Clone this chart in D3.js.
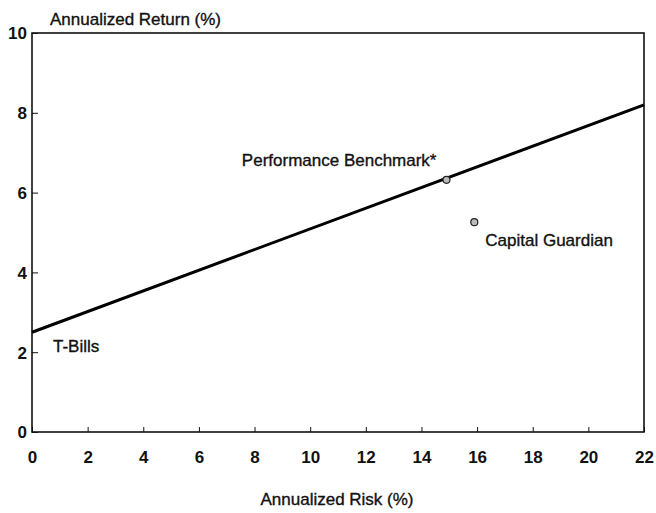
<!DOCTYPE html>
<html><head><meta charset="utf-8">
<script src="https://cdn.jsdelivr.net/npm/d3@7"></script>
<style>body{margin:0;background:#fff}text{font-family:"Liberation Sans",Arial,sans-serif;fill:#111}
.lbl{stroke:#111;stroke-width:0.35px}</style>
</head><body><svg id="c" width="656" height="513"></svg>
<script>
const xTicks=[0,2,4,6,8,10,12,14,16,18,20,22];
const yTicks=[0,2,4,6,8,10];
const lineRisk=[0,22];
const lineReturn=[2.5,8.2];
const pointNames=["Performance Benchmark*","Capital Guardian"];
const pointRisk=[14.9,15.9];
const pointReturn=[6.32,5.26];

const svg=d3.select("#c");
const L=32,R=644,T=33,B=432;
const x=d3.scaleLinear().domain([0,22]).range([L,R]);
const y=d3.scaleLinear().domain([0,10]).range([B,T]);

// frame
svg.append("rect").attr("x",L).attr("y",T).attr("width",R-L).attr("height",B-T)
  .attr("fill","none").attr("stroke","#111").attr("stroke-width",1.6);
// x axis
const xa=svg.append("g").attr("transform",`translate(0,${B})`)
  .call(d3.axisBottom(x).tickValues(xTicks).tickSize(-5).tickPadding(19).tickFormat(d3.format("d")));
xa.select(".domain").remove();
xa.selectAll("text").attr("font-size",17).attr("font-weight","bold");
xa.selectAll("line").attr("stroke","#111");
const ya=svg.append("g").attr("transform",`translate(${L},0)`)
  .call(d3.axisLeft(y).tickValues(yTicks).tickSize(-6).tickPadding(5).tickFormat(d3.format("d")));
ya.select(".domain").remove();
ya.selectAll("text").attr("font-size",17).attr("font-weight","bold").attr("dy","0.35em");
ya.selectAll("line").attr("stroke","#111");

// line
svg.append("line").attr("x1",x(lineRisk[0])).attr("y1",y(lineReturn[0]))
  .attr("x2",x(lineRisk[1])).attr("y2",y(lineReturn[1]))
  .attr("stroke","#000").attr("stroke-width",3);

// points
svg.selectAll("circle.pt").data(pointRisk).enter().append("circle").attr("class","pt")
  .attr("cx",d=>x(d)).attr("cy",(d,i)=>y(pointReturn[i])).attr("r",3.5)
  .attr("fill","#bbb").attr("stroke","#222").attr("stroke-width",1.2);

// labels
svg.append("text").attr("class","lbl").attr("x",x(pointRisk[0])-10).attr("y",y(pointReturn[0])-14).attr("text-anchor","end")
  .attr("font-size",17).text(pointNames[0]);
svg.append("text").attr("class","lbl").attr("x",x(pointRisk[1])+11).attr("y",y(pointReturn[1])+24)
  .attr("font-size",17).text(pointNames[1]);
svg.append("text").attr("class","lbl").attr("x",53).attr("y",y(2.5)+20).attr("font-size",17).text("T-Bills");
svg.append("text").attr("class","lbl").attr("x",50).attr("y",25).attr("font-size",17).text("Annualized Return (%)");
svg.append("text").attr("class","lbl").attr("x",337).attr("y",505).attr("text-anchor","middle").attr("font-size",17).text("Annualized Risk (%)");
</script></body></html>
